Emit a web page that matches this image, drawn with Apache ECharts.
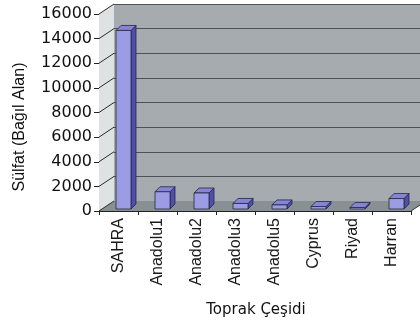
<!DOCTYPE html>
<html><head><meta charset="utf-8">
<script src="https://cdn.jsdelivr.net/npm/echarts@6/dist/echarts.min.js"></script>
<style>html,body{margin:0;padding:0;background:#fff}#c{width:420px;height:327px}</style>
</head><body><div id="c"></div>
<script>
const categories = ['SAHRA','Anadolu1','Anadolu2','Anadolu3','Anadolu5','Cyprus','Riyad','Harran'];
const sulfateValues = [14500, 1400, 1300, 450, 330, 200, 120, 850];
const yTicks = [0,2000,4000,6000,8000,10000,12000,14000,16000];
const yTitle = 'Sülfat (Bağıl Alan)';
const xTitle = 'Toprak Çeşidi';

const DX = 15, DY = -10;
const BAR_OFF_X = 5, BAR_OFF_Y = -2, BAR_W = 15, BAR_DX = 5, BAR_DY = -5;
const EDGE = '#262645';

function renderBar(params, api) {
  const i = api.value(0), v = api.value(1);
  const top = api.coord([i, v]);
  const base = api.coord([i, 0]);
  const cx = top[0] + BAR_OFF_X;
  const x0 = cx - BAR_W / 2, x1 = cx + BAR_W / 2;
  const yT = top[1] + BAR_OFF_Y, yB = base[1] + BAR_OFF_Y;
  const st = (f) => ({ fill: f, stroke: EDGE, lineWidth: 0.8 });
  return { type: 'group', children: [
    { type: 'polygon', shape: { points: [[x1, yT], [x1 + BAR_DX, yT + BAR_DY], [x1 + BAR_DX, yB + BAR_DY], [x1, yB]] }, style: st('#4f4fa3') },
    { type: 'polygon', shape: { points: [[x0, yT], [x0 + BAR_DX, yT + BAR_DY], [x1 + BAR_DX, yT + BAR_DY], [x1, yT]] }, style: st('#8585d4') },
    { type: 'polygon', shape: { points: [[x0, yT], [x1, yT], [x1, yB], [x0, yB]] }, style: st('#9c9ce4') }
  ]};
}

function leftEdge(api) {
  return api.coord([0, 0])[0] - api.size([1, 0])[0] / 2;
}

function renderFrame(params, api) {
  const bw = api.size([1, 0])[0];
  const n = categories.length;
  const l = leftEdge(api);
  const r = api.coord([n - 1, 0])[0] + bw / 2;
  const y0 = api.coord([0, 0])[1];
  const yTop = api.coord([0, 16000])[1];
  return { type: 'group', children: [
    { type: 'polygon', shape: { points: [[l, yTop], [l + DX, yTop + DY], [l + DX, y0 + DY], [l, y0]] }, style: { fill: '#dfe2e3' } },
    { type: 'polygon', shape: { points: [[l, y0], [r, y0], [r + DX, y0 + DY], [l + DX, y0 + DY]] }, style: { fill: '#899094' } },
    { type: 'line', shape: { x1: r, y1: y0, x2: r + DX, y2: y0 + DY }, style: { stroke: '#333', lineWidth: 1 } }
  ]};
}

function renderDiag(params, api) {
  const l = leftEdge(api);
  const y = api.coord([0, api.value(1)])[1];
  return { type: 'line', shape: { x1: l, y1: y, x2: l + DX, y2: y + DY }, style: { stroke: '#2a2a2a', lineWidth: 1 } };
}

const chart = echarts.init(document.getElementById('c'), null, { renderer: 'canvas' });
chart.setOption({
  animation: false,
  backgroundColor: '#fff',
  grid: [
    { left: 99, top: 14, width: 312, height: 197, outerBoundsMode: 'none', containLabel: false },
    { left: 114, top: 4, width: 312, height: 197, outerBoundsMode: 'none', containLabel: false,
      show: true, backgroundColor: '#a5abae', borderWidth: 0 }
  ],
  xAxis: [
    { type: 'category', gridIndex: 0, data: categories, boundaryGap: true,
      axisLine: { show: true, lineStyle: { color: '#222', width: 1.2 } },
      axisTick: { show: true, alignWithLabel: false, length: 4, lineStyle: { color: '#222' } },
      axisLabel: { rotate: 90, interval: 0, margin: 7, color: '#1a1a1a', fontFamily: 'Liberation Sans', fontSize: 16 },
      splitLine: { show: false } },
    { type: 'category', gridIndex: 1, data: categories, show: false }
  ],
  yAxis: [
    { type: 'value', gridIndex: 0, min: 0, max: 16000, interval: 2000,
      axisLine: { show: true, lineStyle: { color: '#222', width: 1 } },
      axisTick: { show: true, length: 5, lineStyle: { color: '#222' } },
      axisLabel: { margin: 7, color: '#111', fontFamily: 'DejaVu Sans', fontSize: 16, formatter: (v) => String(v) },
      splitLine: { show: false } },
    { type: 'value', gridIndex: 1, min: 0, max: 16000, interval: 2000,
      axisLine: { show: false }, axisTick: { show: false }, axisLabel: { show: false },
      splitLine: { show: true, lineStyle: { color: '#4c5357', width: 1.2 } } }
  ],
  series: [
    { type: 'custom', xAxisIndex: 0, yAxisIndex: 0, z: 1, data: [[0, 0]], renderItem: renderFrame, silent: true },
    { type: 'custom', xAxisIndex: 0, yAxisIndex: 0, z: 2, data: yTicks.map(t => [0, t]),
      encode: { x: 0, y: 1 }, renderItem: renderDiag, silent: true },
    { type: 'custom', xAxisIndex: 0, yAxisIndex: 0, z: 3,
      data: categories.map((c, i) => [i, sulfateValues[i]]),
      encode: { x: 0, y: 1 }, renderItem: renderBar }
  ],
  graphic: [
    { type: 'text', x: 20, y: 127, rotation: Math.PI / 2,
      style: { text: yTitle, fill: '#111', font: '16px "Liberation Sans"', textAlign: 'center', textVerticalAlign: 'middle' } },
    { type: 'text', x: 256, y: 310,
      style: { text: xTitle, fill: '#111', font: '15px "DejaVu Sans"', textAlign: 'center', textVerticalAlign: 'middle' } }
  ]
});
</script>
</body></html>
